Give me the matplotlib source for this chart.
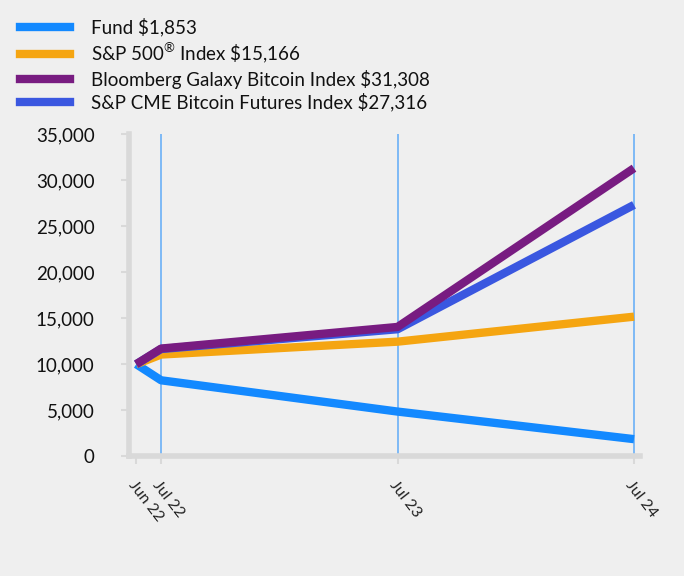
import matplotlib
matplotlib.use("Agg")
from matplotlib import pyplot as plt
from matplotlib.lines import Line2D

plt.rcParams['font.family'] = ['Lato', 'DejaVu Sans']
plt.rcParams['mathtext.fontset'] = 'custom'
plt.rcParams['mathtext.rm'] = 'Lato'

dates = ['Jun 22', 'Jul 22', 'Jul 23', 'Jul 24']
x_pos = [0, 1, 10.5, 20]

fund = [10000, 8250, 4850, 1853]
sp500 = [10000, 11050, 12450, 15166]
galaxy = [10000, 11700, 14050, 31308]
cme = [10000, 11650, 13800, 27316]

series = [
    ('Fund $1,853', fund, '#1389ff'),
    (r'S&P 500$^{\circledR}$ Index \$15,166', sp500, '#f5a511'),
    ('Bloomberg Galaxy Bitcoin Index $31,308', galaxy, '#781c81'),
    ('S&P CME Bitcoin Futures Index $27,316', cme, '#3a57e0'),
]

bg = '#efefef'
fig = plt.figure(figsize=(6.84, 5.76), dpi=100, facecolor=bg)
ax = fig.add_axes([0.189, 0.208, 0.747, 0.559], facecolor=bg)

for x in x_pos[1:]:
    ax.axvline(x, color='#6ab0f7', lw=1.2, zorder=1)

# draw order: fund, sp500, cme, galaxy on top
for idx in [0, 1, 3, 2]:
    label, vals, col = series[idx]
    ax.plot(x_pos, vals, color=col, lw=6, solid_capstyle='butt', zorder=3)

ax.set_ylim(0, 35000)
ax.set_xlim(-0.28, 20.25)
ax.set_yticks(range(0, 35001, 5000))
ax.set_yticklabels([f'{v:,}' for v in range(0, 35001, 5000)], fontsize=13.5, color='#111111')
ax.set_xticks(x_pos)
ax.set_xticklabels(dates, fontsize=11.5, rotation=-52, ha='left', va='top',
                   rotation_mode='anchor', color='#222222')

for s in ['top', 'right']:
    ax.spines[s].set_visible(False)
for s in ['left', 'bottom']:
    ax.spines[s].set_color('#d9d9d9')
    ax.spines[s].set_linewidth(4)
ax.tick_params(axis='y', color='#d9d9d9', length=6, width=1.5, pad=19)
ax.tick_params(axis='x', color='#d9d9d9', length=6, width=1.5, pad=10)

handles = [Line2D([0], [0], color=c, lw=6) for _, _, c in series]
leg = fig.legend(handles, [s[0] for s in series], loc='upper left',
                 bbox_to_anchor=(0.005, 0.998), frameon=False, fontsize=13.5,
                 handlelength=2.65, handletextpad=1.1, labelspacing=0.23)
for t in leg.get_texts():
    t.set_color('#111111')

fig.savefig('out.png', dpi=100, facecolor=bg)
